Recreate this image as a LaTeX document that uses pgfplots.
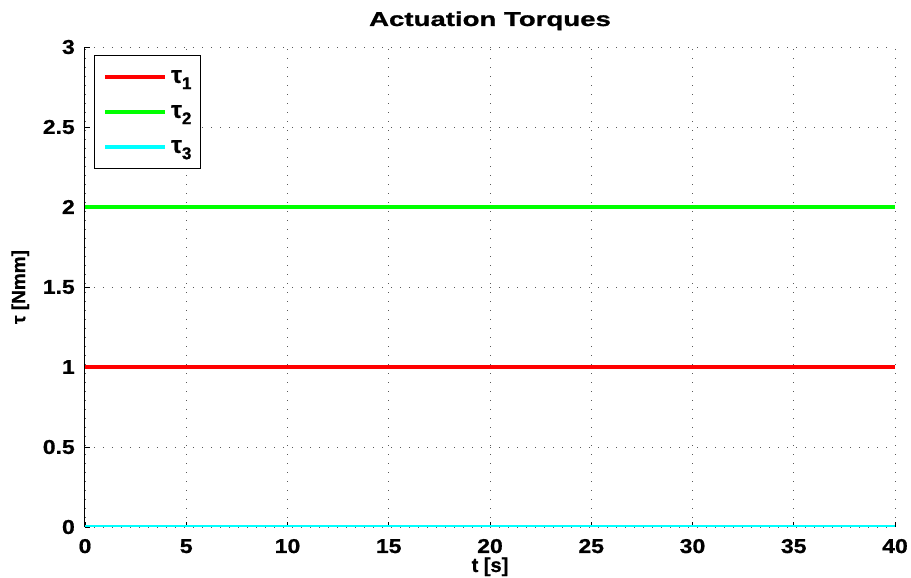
\documentclass[border=0pt]{standalone}
\usepackage{pgfplots}
\pgfplotsset{compat=1.18}
\usepackage{fontspec}
\setmainfont{Liberation Sans}[FakeBold=0.8]
\newfontfamily\tickfont[FakeStretch=1.15,FakeBold=0.8]{Liberation Sans}
\newfontfamily\titlefont[FakeStretch=1.38,FakeBold=1.0]{Liberation Sans}
\definecolor{mred}{RGB}{255,0,0}
\definecolor{mgreen}{RGB}{0,255,0}
\definecolor{mcyan}{RGB}{0,255,255}
\newcommand{\tlab}[1]{\fontsize{24}{26}\selectfont\bfseries τ\raisebox{-0.5ex}{\fontsize{17}{18}\selectfont #1}}
\begin{document}
\begin{tikzpicture}
\useasboundingbox (-85pt,-51pt) rectangle (826pt,527pt);
\begin{axis}[
  at={(0pt,0pt)}, anchor=south west,
  scale only axis, width=810pt, height=480pt,
  xmin=0, xmax=40, ymin=0, ymax=3,
  xtick={0,5,...,40}, ytick={0,0.5,...,3},
  axis lines=left, axis line style={-, line width=1pt},
  tick align=inside, major tick length=5pt,
  tick style={black, line width=0.6pt},
  grid=major,
  major grid style={black!65, line width=0.7pt, dash pattern=on 0.8pt off 8.2pt},
  /pgf/number format/assume math mode=true,
  tick label style={font=\fontsize{20}{24}\selectfont\tickfont\bfseries, inner sep=0pt},
  xticklabel style={anchor=base, yshift=-26pt},
  yticklabel style={anchor=east, xshift=-10pt},
  title={Actuation Torques},
  title style={at={(axis description cs:0.5,1)}, anchor=base, yshift=15pt, inner sep=0pt, font=\fontsize{20}{24}\selectfont\titlefont\bfseries},
  xlabel={t [s]},
  x label style={at={(axis description cs:0.5,0)}, anchor=base, yshift=-45pt, inner sep=0pt, font=\fontsize{20}{24}\selectfont\bfseries},
  ylabel={τ [Nmm]},
  y label style={at={(axis description cs:-0.080,0.5)}, anchor=center, inner sep=0pt, font=\fontsize{19}{24}\selectfont\bfseries},
  legend style={at={(axis description cs:0,1)}, anchor=north west, xshift=9pt, yshift=-8pt,
    draw=black, line width=1.5pt, fill=white, inner xsep=9pt, inner ysep=4pt,
    row sep=0pt, column sep=4pt,
    nodes={inner sep=0pt, minimum height=35pt},
    cells={anchor=west}},
  legend image code/.code={\draw[#1] (0pt,0pt) -- (60pt,0pt);},
]
\addplot[mred, line width=3.5pt] coordinates {(0,1) (40,1)};
\addlegendentry{\tlab{1}}
\addplot[mgreen, line width=3.5pt] coordinates {(0,2) (40,2)};
\addlegendentry{\tlab{2}}
\addplot[mcyan, line width=3.5pt] coordinates {(0,0) (40,0)};
\addlegendentry{\tlab{3}}
\end{axis}
\end{tikzpicture}
\end{document}
